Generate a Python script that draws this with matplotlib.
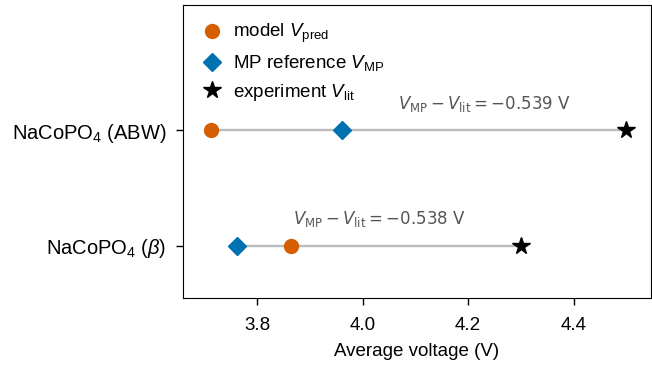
import matplotlib
matplotlib.use("Agg")
from matplotlib import pyplot as plt

plt.rcParams['font.family'] = ['Liberation Sans', 'DejaVu Sans']
plt.rcParams['mathtext.fontset'] = 'custom'
plt.rcParams['mathtext.rm'] = 'Liberation Sans'
plt.rcParams['mathtext.it'] = 'Liberation Sans:italic'

# data
materials = ["NaCoPO$_4$ ($\\beta$)", "NaCoPO$_4$ (ABW)"]
v_pred = [3.864, 3.713]
v_mp = [3.762, 3.961]
v_lit = [4.30, 4.50]
diff_labels = ["$V_{\\mathrm{MP}} - V_{\\mathrm{lit}} = -0.538$ V",
               "$V_{\\mathrm{MP}} - V_{\\mathrm{lit}} = -0.539$ V"]

fig, ax = plt.subplots(figsize=(6.52, 3.66), dpi=100)
fig.subplots_adjust(left=0.281, right=0.998, top=0.986, bottom=0.186)

for i in range(len(materials)):
    lo = min(v_pred[i], v_mp[i], v_lit[i])
    hi = max(v_pred[i], v_mp[i], v_lit[i])
    ax.plot([lo, hi], [i, i], color="#bbbbbb", lw=1.7, zorder=1)
    mid = (v_mp[i] + v_lit[i]) / 2
    ax.annotate(diff_labels[i], (mid, i), xytext=(0, 19), textcoords="offset points",
                ha="center", va="center", color="#555555", fontsize=12,
                math_fontfamily="dejavusans", family="DejaVu Sans")

ax.plot(v_pred, range(len(materials)), "o", color="#D55E00", ms=10, ls="none",
        label="model $V_{\\mathrm{pred}}$", zorder=3)
ax.plot(v_mp, range(len(materials)), "D", color="#0072B2", ms=9, ls="none",
        label="MP reference $V_{\\mathrm{MP}}$", zorder=3)
ax.plot(v_lit, range(len(materials)), "*", color="black", ms=13, ls="none",
        label="experiment $V_{\\mathrm{lit}}$", zorder=3)

ax.set_yticks(range(len(materials)))
ax.set_yticklabels(materials, fontsize=14.5)
ax.set_xticks([3.8, 4.0, 4.2, 4.4])
ax.tick_params(axis="x", labelsize=13.5, pad=8.5)
ax.tick_params(axis="y", pad=7)
ax.tick_params(length=5, width=1)
ax.set_xlim(3.66, 4.546)
ax.set_ylim(-0.45, 2.08)
ax.set_xlabel("Average voltage (V)", fontsize=13.5, labelpad=7)
ax.legend(loc="upper left", bbox_to_anchor=(0.005, 0.968), frameon=False,
          fontsize=13.5, handletextpad=0.15, borderaxespad=0, labelspacing=0.44)

fig.savefig("out.png", dpi=100)
